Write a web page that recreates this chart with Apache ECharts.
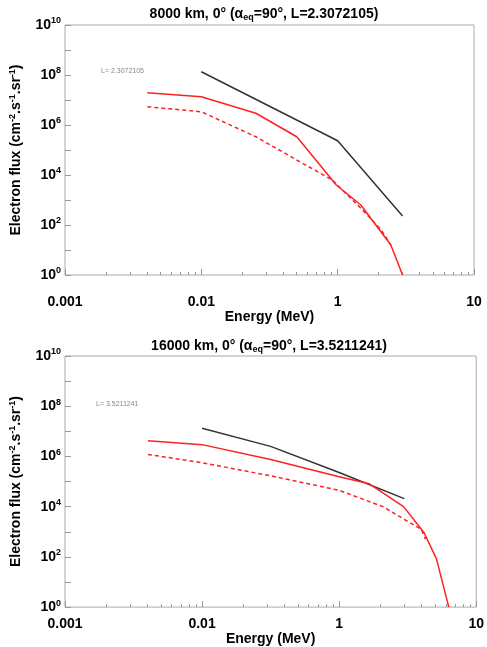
<!DOCTYPE html>
<html><head><meta charset="utf-8">
<script src="https://cdn.jsdelivr.net/npm/echarts@6/dist/echarts.min.js"></script>
<style>html,body{margin:0;padding:0;background:#fff}#c{width:487px;height:647px}</style>
</head><body><div id="c"></div>
<script>
// x positions are given in decades from the left edge of each panel (axis labels below)
const xTickLabels = ['0.001', '0.01', '1', '10'];
// Top panel: 8000 km (x = decades from left, y = log10 flux)
const topBlack = [[1.0, 8.13], [2.0, 5.37], [2.476, 2.36]];
const topRed = [[0.604, 7.29], [1.0, 7.13], [1.40, 6.47], [1.70, 5.53], [1.99, 3.6], [2.17, 2.8], [2.39, 1.2], [2.476, 0]];
const topRedDash = [[0.604, 6.73], [1.0, 6.53], [1.40, 5.53], [1.70, 4.6], [1.96, 3.8], [2.17, 2.67], [2.32, 1.8], [2.39, 1.2]];
// Bottom panel: 16000 km
const botBlack = [[1.0, 7.12], [1.5, 6.40], [2.0, 5.36], [2.475, 4.32]];
const botRed = [[0.605, 6.62], [1.0, 6.47], [1.5, 5.88], [2.0, 5.19], [2.22, 4.91], [2.47, 4.0], [2.62, 2.96], [2.71, 1.92], [2.8, 0]];
const botRedDash = [[0.605, 6.08], [1.0, 5.75], [1.5, 5.23], [2.0, 4.65], [2.32, 4.0], [2.6, 3.09], [2.63, 2.7]];

const toPts = a => a.map(p => [Math.pow(10, p[0] - 3), Math.pow(10, p[1])]);
const FF = 'Liberation Sans, Arial, sans-serif';
const supRich = {b: {fontFamily: FF, fontSize: 14, fontWeight: 'bold', color: '#000'},
  s: {fontFamily: FF, fontSize: 9, fontWeight: 'bold', color: '#000', verticalAlign: 'top', padding: [0, 0, 8, 0]}};

function xAxis(gi, margin) {
  return {type: 'log', gridIndex: gi, min: 0.001, max: 1, logBase: 10, interval: 1,
    name: 'Energy (MeV)', nameLocation: 'middle', nameGap: gi === 0 ? 32 : 22,
    nameTextStyle: {fontFamily: FF, fontSize: 14, fontWeight: 'bold', color: '#000'},
    axisLine: {show: false},
    axisTick: {show: true, inside: true, length: 6, lineStyle: {color: '#999'}},
    minorTick: {show: true, splitNumber: 9, length: 3, lineStyle: {color: '#999'}},
    splitLine: {show: false},
    axisLabel: {margin: margin, fontFamily: FF, fontSize: 14, fontWeight: 'bold', color: '#000',
      formatter: v => xTickLabels[Math.round(Math.log10(v)) + 3] || ''}};
}
function yAxis(gi) {
  return {type: 'log', gridIndex: gi, min: 1, max: 1e10, logBase: 10, interval: 1, splitNumber: 10,
    name: '{b|Electron flux (cm}{s|-2}{b|.s}{s|-1}{b|.sr}{s|-1}{b|)}',
    nameLocation: 'middle', nameGap: 40, nameRotate: 90,
    nameTextStyle: {rich: supRich},
    axisLine: {show: false},
    axisTick: {show: true, inside: true, length: 6, lineStyle: {color: '#999'}},
    splitLine: {show: false},
    axisLabel: {interval: 0, margin: 4, rich: supRich,
      formatter: v => { const e = Math.round(Math.log10(v)); return e % 2 === 0 ? '{b|10}{s|' + e + '}' : ''; }}};
}
function line(data, gi, color, dashed) {
  return {type: 'line', xAxisIndex: gi, yAxisIndex: gi, data: toPts(data), showSymbol: false,
    smooth: false, lineStyle: {color: color, width: 1.5, type: dashed ? [4, 3] : 'solid'}};
}
const tRich = {b: {fontFamily: FF, fontSize: 14, fontWeight: 'bold', color: '#000'}, u: {fontFamily: FF, fontSize: 9, fontWeight: 'bold', color: '#000', verticalAlign: 'bottom', padding: [6, 0, 0, 0]}};
const chart = echarts.init(document.getElementById('c'));
chart.setOption({
  animation: false,
  title: [
    {text: '{b|8000 km, 0° (α}{u|eq}{b|=90°, L=2.3072105)}', left: 259, top: 2, textAlign: 'center', textStyle: {rich: tRich}},
    {text: '{b|16000 km, 0° (α}{u|eq}{b|=90°, L=3.5211241)}', left: 264, top: 334, textAlign: 'center', textStyle: {rich: tRich}}
  ],
  grid: [
    {left: 60, right: 13, top: 25, height: 250, show: true, borderColor: '#aaa', borderWidth: 1},
    {left: 54, right: 6, top: 356, height: 257, show: true, borderColor: '#aaa', borderWidth: 1}
  ],
  xAxis: [xAxis(0, 20), xAxis(1, 10)],
  yAxis: [yAxis(0), yAxis(1)],
  graphic: [
    {type: 'text', left: 101, top: 68, style: {text: 'L= 2.3072105', fontFamily: FF, fontSize: 7, fill: '#888'}},
    {type: 'text', left: 96, top: 401, style: {text: 'L= 3.5211241', fontFamily: FF, fontSize: 7, fill: '#888'}}
  ],
  series: [
    line(topBlack, 0, '#333', false), line(topRed, 0, '#ff2020', false), line(topRedDash, 0, '#ff2020', true),
    line(botBlack, 1, '#333', false), line(botRed, 1, '#ff2020', false), line(botRedDash, 1, '#ff2020', true)
  ]
});
</script></body></html>
